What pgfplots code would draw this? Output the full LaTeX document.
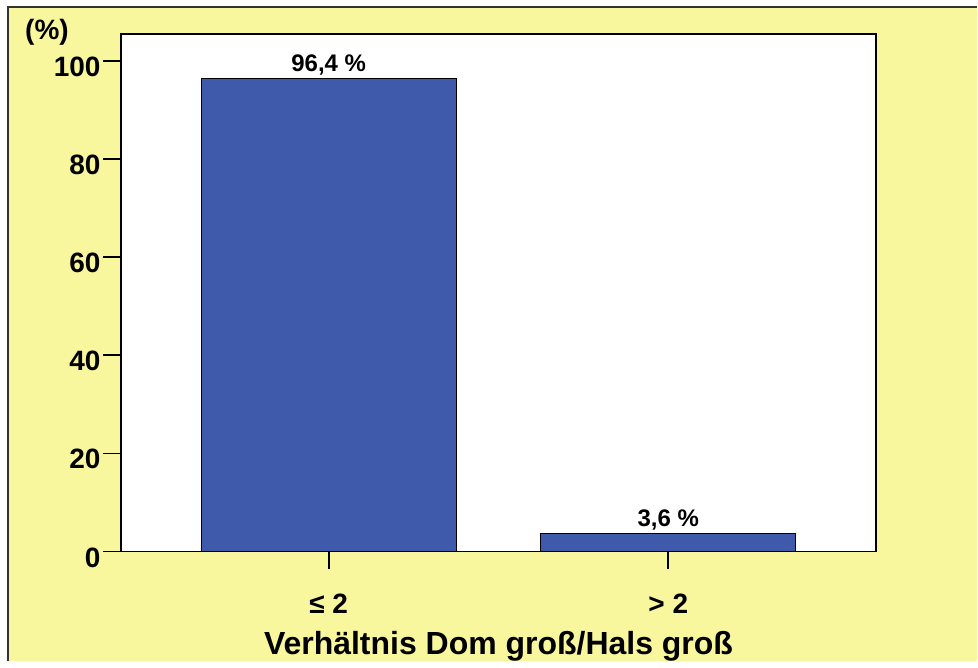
\documentclass[border=0pt]{standalone}
\usepackage{fontspec}
\setmainfont{Liberation Sans}
\usepackage{pgfplots}
\pgfplotsset{compat=1.18}
\definecolor{Bg}{RGB}{249,247,158}
\definecolor{Bar}{RGB}{63,90,170}

\begin{document}
\begin{tikzpicture}[x=1pt,y=1pt]
  % page frame: yellow panel with border on left and top
  \fill[white] (0,0) rectangle (489,331);
  \fill[Bg] (4,0) rectangle (489,327.5);
  \draw[black!80,line width=1pt] (4,0) -- (4,327.5) -- (489,327.5);
  \node[font=\fontsize{14}{16}\selectfont\bfseries] at (23.5,315) {(\%)};
  \begin{axis}[
      at={(60.5pt,55pt)}, anchor=south west,
      scale only axis,
      width=378pt, height=259pt,
      xmin=-0.612, xmax=1.612,
      ymin=0, ymax=105.5,
      axis background/.style={fill=white},
      axis line style={black,line width=0.8pt},
      ybar, bar width=127.5pt,
      xtick={0,1},
      xticklabels={≤ 2, > 2},
      ytick={0,20,40,60,80,100},
      tick pos=left,
      tick align=outside,
      major tick length=9pt,
      tick style={black,line width=0.8pt},
      /pgf/number format/assume math mode=true,
      tick label style={font=\fontsize{14}{16}\selectfont\bfseries},
      yticklabel style={yshift=-3pt,inner xsep=1pt},
      xticklabel style={anchor=base,yshift=-22pt},
      xlabel={Verhältnis Dom groß/Hals groß},
      xlabel style={font=\fontsize{16}{18}\selectfont\bfseries,
        at={(axis description cs:0.5,0)},anchor=base,yshift=-51.5pt},
      nodes near coords={\pgfmathprintnumber[fixed,fixed zerofill,precision=1,use comma]{\pgfplotspointmeta}~\%},
      nodes near coords style={font=\fontsize{12}{14}\selectfont\bfseries,inner sep=1.5pt},
      clip=false]
    \addplot[fill=Bar,draw=black,line width=0.5pt]
      coordinates {(0,96.4) (1,3.6)};
  \end{axis}
\end{tikzpicture}
\end{document}
